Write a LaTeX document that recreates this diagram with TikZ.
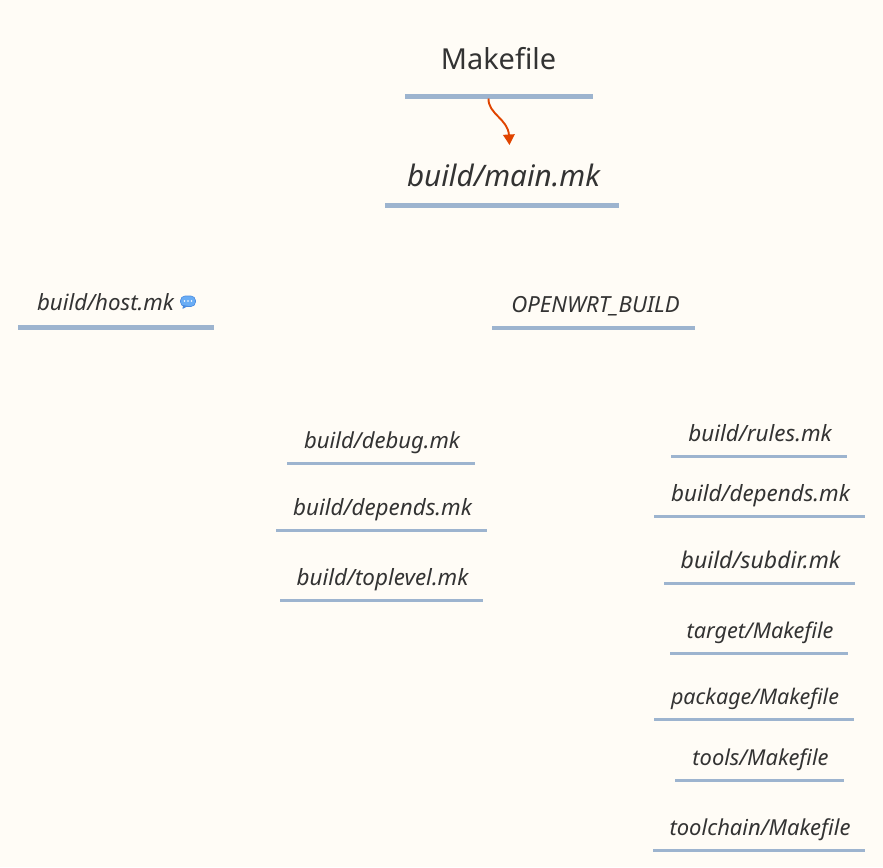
\documentclass[tikz,border=0pt]{standalone}
\usepackage{fontspec}
\setmainfont{Noto Sans}
\usetikzlibrary{arrows.meta}
\definecolor{bgc}{HTML}{FFFCF6}
\definecolor{barc}{HTML}{9DB4CF}
\definecolor{inkc}{HTML}{333333}
\definecolor{arrowc}{HTML}{E04400}
\definecolor{notec}{HTML}{6AADF5}
\definecolor{noted}{HTML}{4A8BE0}
\tikzset{
 label text/.style={text=inkc,inner sep=0pt,anchor=base,font=\fontsize{#1}{#1}\selectfont\itshape},
 bar/.style={fill=barc,draw=none,inner sep=0pt,minimum height=#1},
 link/.style={draw=arrowc,line width=1.9pt,-{Triangle[length=10.5pt,width=11.5pt]}}
}
% name, text centre x, text baseline y, size, bar left, bar right, bar y, bar thickness, text
\newcommand{\topicnode}[9]{%
 \node[label text=#4] (#1) at (#2,#3) {#9};
 \node[bar=#8pt,minimum width={(#6-#5)*1pt}] (#1bar) at ({(#5+#6)/2},#7) {};
}
\begin{document}
\begin{tikzpicture}[x=1pt,y=-1pt]
\useasboundingbox[fill=bgc] (0,0) rectangle (883,867);
\node[text=inkc,inner sep=0pt,anchor=base,font=\fontsize{28.9}{28.9}\selectfont] (mk) at (498.5,69.5) {Makefile};
\node[bar=5pt,minimum width=188pt] (mkbar) at (498.5,96.5) {};
\topicnode{main}{503.5}{186}{29.6}{385}{619}{205}{5}{build/main.mk}
\topicnode{host}{105.5}{310}{22.3}{18}{214}{327.5}{4.5}{build/host.mk}
\topicnode{owrt}{595.5}{312}{22.2}{492}{695}{328}{4.5}{OPENWRT\_BUILD}
\topicnode{debug}{382}{448}{22.1}{287}{475}{463.5}{3}{build/debug.mk}
\topicnode{dep}{382.5}{515}{22.4}{276}{487}{530.5}{3}{build/depends.mk}
\topicnode{top}{382.5}{585}{22.4}{280}{483}{600.5}{3}{build/toplevel.mk}
\topicnode{rules}{760}{441}{22.4}{671}{847}{456.5}{3}{build/rules.mk}
\topicnode{depb}{760.5}{501}{22.4}{654}{865}{516.5}{3}{build/depends.mk}
\topicnode{subdir}{760.5}{568}{23}{664}{855}{583}{3}{build/subdir.mk}
\topicnode{target}{760}{638}{21.7}{670}{848}{653}{3}{target/Makefile}
\topicnode{pkg}{755}{704}{21.5}{654}{854}{719.5}{3}{package/Makefile}
\topicnode{tools}{760.5}{765}{21.9}{675}{844}{780}{3}{tools/Makefile}
\topicnode{chain}{760}{835}{22}{653}{865}{850}{3}{toolchain/Makefile}
% note icon
\fill[notec,draw=noted,line width=0.6pt,rounded corners=4.5pt] (180.5,296) rectangle (195.5,306.5);
\fill[noted] (183,305) -- (182.5,309) -- (188,306) -- cycle;
\foreach \i in {184.5,188,191.5}\fill[white] (\i,301) circle (0.8pt);
\coordinate (arrowend) at (509.5,145);
\draw[link] ([xshift=-10pt,yshift=-2pt]mkbar.center) .. controls (488,114) and (508,119) .. (arrowend);
\end{tikzpicture}
\end{document}
